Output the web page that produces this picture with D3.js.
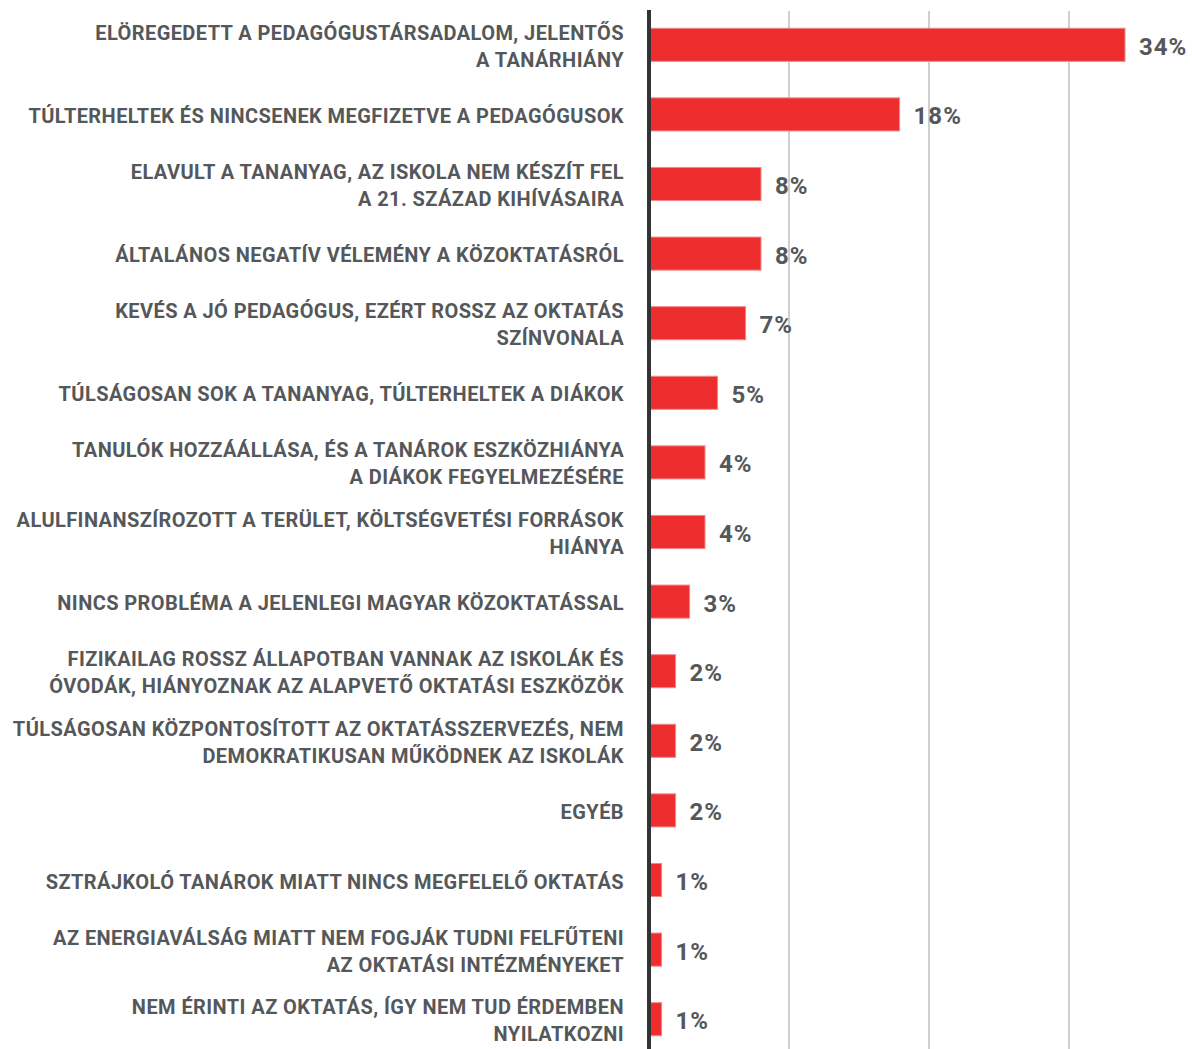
<!DOCTYPE html>
<html>
<head>
<meta charset="utf-8">
<script src="https://cdn.jsdelivr.net/npm/d3@7"></script>
<style>
  body { margin: 0; background: #fff; }
  svg { display: block; }
  .cat { font-family: Roboto, "Open Sans", sans-serif; font-weight: 700; font-size: 20px; letter-spacing: 0.42px; fill: #55585a; }
  .val { font-family: Roboto, "Open Sans", sans-serif; font-weight: 700; font-size: 24px; letter-spacing: 1px; fill: #55585a; }
</style>
</head>
<body>
<script>
// categories (line breaks as in the original)
var categories = [
  "ELÖREGEDETT A PEDAGÓGUSTÁRSADALOM, JELENTŐS\nA TANÁRHIÁNY",
  "TÚLTERHELTEK ÉS NINCSENEK MEGFIZETVE A PEDAGÓGUSOK",
  "ELAVULT A TANANYAG, AZ ISKOLA NEM KÉSZÍT FEL\nA 21. SZÁZAD KIHÍVÁSAIRA",
  "ÁLTALÁNOS NEGATÍV VÉLEMÉNY A KÖZOKTATÁSRÓL",
  "KEVÉS A JÓ PEDAGÓGUS, EZÉRT ROSSZ AZ OKTATÁS\nSZÍNVONALA",
  "TÚLSÁGOSAN SOK A TANANYAG, TÚLTERHELTEK A DIÁKOK",
  "TANULÓK HOZZÁÁLLÁSA, ÉS A TANÁROK ESZKÖZHIÁNYA\nA DIÁKOK FEGYELMEZÉSÉRE",
  "ALULFINANSZÍROZOTT A TERÜLET, KÖLTSÉGVETÉSI FORRÁSOK\nHIÁNYA",
  "NINCS PROBLÉMA A JELENLEGI MAGYAR KÖZOKTATÁSSAL",
  "FIZIKAILAG ROSSZ ÁLLAPOTBAN VANNAK AZ ISKOLÁK ÉS\nÓVODÁK, HIÁNYOZNAK AZ ALAPVETŐ OKTATÁSI ESZKÖZÖK",
  "TÚLSÁGOSAN KÖZPONTOSÍTOTT AZ OKTATÁSSZERVEZÉS, NEM\nDEMOKRATIKUSAN MŰKÖDNEK AZ ISKOLÁK",
  "EGYÉB",
  "SZTRÁJKOLÓ TANÁROK MIATT NINCS MEGFELELŐ OKTATÁS",
  "AZ ENERGIAVÁLSÁG MIATT NEM FOGJÁK TUDNI FELFŰTENI\nAZ OKTATÁSI INTÉZMÉNYEKET",
  "NEM ÉRINTI AZ OKTATÁS, ÍGY NEM TUD ÉRDEMBEN\nNYILATKOZNI"
];
// share of answers, %
var values = [34, 17.9, 8, 8, 6.9, 4.9, 4, 4, 2.9, 1.9, 1.9, 1.9, 0.9, 0.9, 0.9];
var labels = ["34%", "18%", "8%", "8%", "7%", "5%", "4%", "4%", "3%", "2%", "2%", "2%", "1%", "1%", "1%"];
var gridTicks = [10, 20, 30];

var width = 1192, height = 1049;
var data = categories.map(function(c, i){ return {cat: c, value: values[i], label: labels[i]}; });

var x = d3.scaleLinear().domain([0, 40]).range([649, 1209]);
var y = d3.scaleBand()
          .domain(categories)
          .range([10, 1054])
          .paddingInner(0.51)
          .paddingOuter(0.255);

var svg = d3.select("body").append("svg").attr("width", width).attr("height", height);

// gridlines
svg.append("g").selectAll("line")
   .data(gridTicks)
   .enter().append("line")
     .attr("x1", function(d){ return x(d); })
     .attr("x2", function(d){ return x(d); })
     .attr("y1", 11)
     .attr("y2", height)
     .attr("stroke", "#cfcfcf")
     .attr("stroke-width", 2);

// bars
svg.append("g").selectAll("rect")
   .data(data)
   .enter().append("rect")
     .attr("x", x(0))
     .attr("y", function(d){ return y(d.cat) + 0.5; })
     .attr("width", function(d){ return x(d.value) - x(0); })
     .attr("height", y.bandwidth() - 1)
     .attr("fill", "#ee2e2e")
     .attr("stroke", "#f28a8a")
     .attr("stroke-width", 1);

// value labels
svg.append("g").selectAll("text")
   .data(data)
   .enter().append("text")
     .attr("class", "val")
     .attr("x", function(d){ return x(d.value) + 14; })
     .attr("y", function(d){ return y(d.cat) + y.bandwidth() / 2 + 10; })
     .text(function(d){ return d.label; });

// category labels
var cats = svg.append("g").selectAll("text")
   .data(data)
   .enter().append("text")
     .attr("class", "cat")
     .attr("text-anchor", "end")
     .attr("x", 624)
     .attr("y", function(d){ return y(d.cat) + y.bandwidth() / 2 + 8.5; });

cats.each(function(d){
  var lines = d.cat.split("\n");
  var t = d3.select(this);
  var off = -(lines.length - 1) * 13.5;
  lines.forEach(function(l, i){
    t.append("tspan")
     .attr("x", 624)
     .attr("dy", i === 0 ? off : 27)
     .text(l);
  });
});

// vertical axis line
svg.append("line")
   .attr("x1", x(0)).attr("x2", x(0))
   .attr("y1", 10).attr("y2", height)
   .attr("stroke", "#333335")
   .attr("stroke-width", 4);
</script>
</body>
</html>
